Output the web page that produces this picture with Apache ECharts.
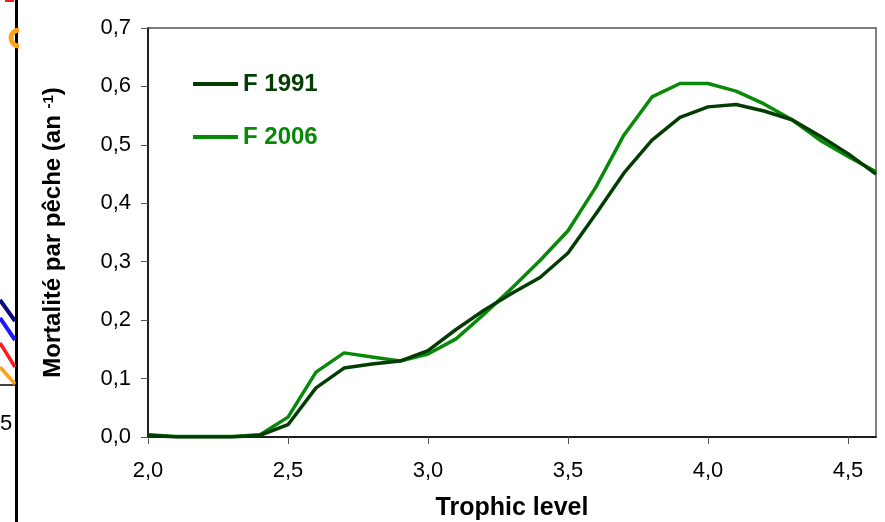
<!DOCTYPE html>
<html>
<head>
<meta charset="utf-8">
<script src="https://cdn.jsdelivr.net/npm/echarts@6/dist/echarts.min.js"></script>
<style>
  html, body { margin: 0; padding: 0; background: #fff; }
  #chart { width: 885px; height: 522px; }
</style>
</head>
<body>
<div id="chart"></div>
<script>
// niveaux trophiques (pas de 0.1)
const trophicLevels = [2.0, 2.1, 2.2, 2.3, 2.4, 2.5, 2.6, 2.7, 2.8, 2.9, 3.0, 3.1, 3.2, 3.3,
  3.4, 3.5, 3.6, 3.7, 3.8, 3.9, 4.0, 4.1, 4.2, 4.3, 4.4, 4.5, 4.6];

const f1991 = [0.003, 0, 0, 0, 0.003, 0.021, 0.084, 0.118, 0.125, 0.130, 0.148, 0.184, 0.217, 0.246,
  0.273, 0.315, 0.382, 0.452, 0.508, 0.547, 0.565, 0.569, 0.558, 0.543, 0.515, 0.485, 0.450];

const f2006 = [0.004, 0.001, 0.001, 0.001, 0.004, 0.034, 0.111, 0.144, 0.137, 0.130, 0.142, 0.168, 0.210, 0.255,
  0.302, 0.353, 0.428, 0.517, 0.582, 0.605, 0.605, 0.592, 0.570, 0.543, 0.508, 0.480, 0.454];

const seriesNames = ['F 1991', 'F 2006'];
const seriesColors = ['#043d04', '#078a07'];

const font = '"Liberation Sans", Arial, sans-serif';

const toPairs = (vals) => trophicLevels.map((x, i) => [x, vals[i]]);

const myChart = echarts.init(document.getElementById('chart'));

const option = {
  animation: false,
  textStyle: { fontFamily: font },
  grid: {
    left: 148, right: 9, top: 28, bottom: 85,
    outerBoundsMode: 'none',
    show: true,
    borderColor: '#555',
    borderWidth: 1.5
  },
  legend: {
    left: 188, top: 67,
    orient: 'vertical',
    icon: 'rect',
    itemWidth: 45,
    itemHeight: 4,
    itemGap: 29,
    textStyle: { fontFamily: font, fontSize: 24, fontWeight: 'bold' },
    data: seriesNames.map((n, i) => ({ name: n, textStyle: { color: seriesColors[i] } }))
  },
  xAxis: {
    type: 'value',
    min: 2.0, max: 4.6, interval: 0.5,
    name: 'Trophic level',
    nameLocation: 'center',
    nameGap: 59,
    nameTextStyle: { fontFamily: font, fontSize: 25, fontWeight: 'bold', color: '#000' },
    axisLine: { onZero: false, lineStyle: { color: '#000', width: 1.5 } },
    axisTick: { length: 7, lineStyle: { color: '#555' } },
    axisLabel: {
      margin: 23, fontSize: 22, color: '#000', fontFamily: font,
      showMaxLabel: false,
      formatter: v => v.toFixed(1).replace('.', ',')
    },
    splitLine: { show: false }
  },
  yAxis: {
    type: 'value',
    min: 0, max: 0.7, interval: 0.1,
    name: '{a|Mortalité par pêche (an }{s|-1}{a|)}',
    nameLocation: 'center',
    nameGap: 82,
    nameTextStyle: {
      rich: {
        a: { fontFamily: font, fontSize: 24, fontWeight: 'bold', color: '#000' },
        s: { fontFamily: font, fontSize: 15, fontWeight: 'bold', color: '#000', verticalAlign: 'top', padding: [0, 0, 10, 0] }
      }
    },
    axisLine: { show: true, lineStyle: { color: '#000', width: 1.5 } },
    axisTick: { show: true, inside: false, length: 7, lineStyle: { color: '#555' } },
    axisLabel: {
      margin: 17, fontSize: 22, color: '#000', fontFamily: font,
      formatter: v => v.toFixed(1).replace('.', ',')
    },
    splitLine: { show: false }
  },
  series: seriesNames.map((n, i) => ({
    name: n,
    type: 'line',
    data: toPairs(i === 0 ? f1991 : f2006),
    showSymbol: false,
    symbol: 'none',
    lineStyle: { color: seriesColors[i], width: 3.5 },
    itemStyle: { color: seriesColors[i] },
    z: i === 0 ? 3 : 2
  })),
  // restes de la figure voisine (bord gauche)
  graphic: [
    { type: 'line', shape: { x1: 16.5, y1: 0, x2: 16.5, y2: 522 }, style: { stroke: '#000', lineWidth: 3 } },
    { type: 'line', shape: { x1: 0, y1: 385, x2: 16, y2: 385 }, style: { stroke: '#000', lineWidth: 1.5 } },
    { type: 'text', left: 0, top: 413, style: { text: '5', font: '22px "Liberation Sans", Arial', fill: '#000' } },
    { type: 'line', shape: { x1: 0, y1: 300, x2: 15, y2: 321 }, style: { stroke: '#0a0a78', lineWidth: 4 } },
    { type: 'line', shape: { x1: 0, y1: 318, x2: 15, y2: 340 }, style: { stroke: '#1a1aff', lineWidth: 4 } },
    { type: 'line', shape: { x1: 0, y1: 343, x2: 15, y2: 367 }, style: { stroke: '#ff1a1a', lineWidth: 3.5 } },
    { type: 'line', shape: { x1: 0, y1: 367, x2: 15, y2: 384 }, style: { stroke: '#ffa21a', lineWidth: 3.5 } },
    { type: 'arc', shape: { cx: 19, cy: 38, r: 8, startAngle: Math.PI * 0.5, endAngle: Math.PI * 1.5 }, style: { stroke: '#ffa21a', lineWidth: 5, fill: null } },
    { type: 'line', shape: { x1: 5, y1: 0, x2: 14, y2: 0 }, style: { stroke: '#ff1a1a', lineWidth: 4 } }
  ]
};

myChart.setOption(option);
</script>
</body>
</html>
